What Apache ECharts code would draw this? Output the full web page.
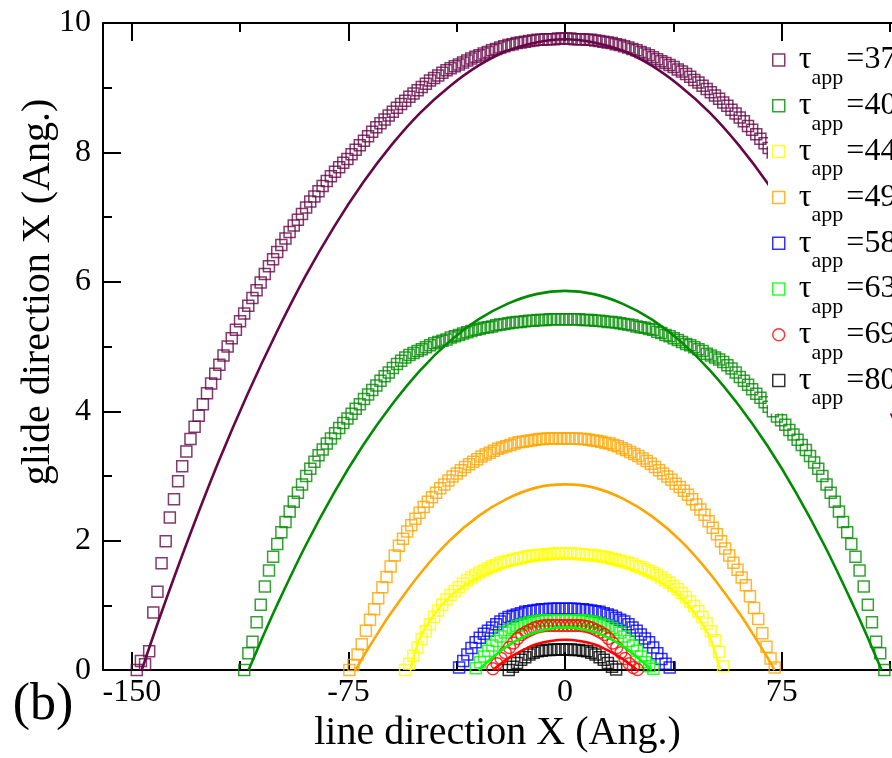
<!DOCTYPE html>
<html>
<head>
<meta charset="utf-8">
<script src="https://cdn.jsdelivr.net/npm/echarts@6.0.0/dist/echarts.min.js"></script>
<style>
  html, body { margin: 0; padding: 0; background: #fff; }
  #chart { width: 892px; height: 758px; }
</style>
</head>
<body>
<div id="chart"></div>
<script>
// Bow-out profiles of a pinned dislocation line for several applied stresses.
// Markers: simulated positions (one per atomic row, spacing X_STEP along the line).
// Curves: continuum line-tension fits.

const X_STEP = 1.43;

const stressLabels = ['37 MPa', '40 MPa', '44 MPa', '49 MPa', '58 MPa', '63 MPa', '69 MPa', '80 MPa'];

// tau_app = 37 MPa
const s37Start = -148.3;
const s37Y = [
  0.00,0.14,0.09,0.29,0.89,1.21,1.65,1.99,2.36,2.64,2.92,3.15,3.38,3.57,3.76,3.93,4.11,4.28,4.43,4.58,4.72,4.86,5.00,
  5.13,5.26,5.39,5.51,5.63,5.75,5.87,5.99,6.12,6.24,6.35,6.46,6.57,
  6.67,6.77,6.87,6.96,7.05,7.15,7.24,7.32,7.40,7.48,7.56,7.63,7.70,7.77,7.84,7.90,7.97,8.04,8.11,8.18,8.25,8.32,8.39,8.45,8.51,8.57,8.63,8.69,8.75,
  8.80,8.86,8.91,8.96,9.01,9.06,9.11,9.15,9.19,9.23,9.27,9.30,9.33,9.36,9.39,
  9.42,9.45,9.48,9.50,9.53,9.55,9.58,9.60,9.62,
  9.64,9.66,9.67,9.69,9.70,9.71,9.72,9.73,9.74,9.74,9.75,9.75,9.75,9.76,9.76,
  9.76,9.76,9.75,9.75,9.75,9.74,9.74,9.73,9.72,9.71,9.70,9.69,9.67,9.66,9.64,9.62,9.60,9.58,9.55,9.53,
  9.50,9.47,9.44,9.41,9.38,9.35,9.32,9.28,9.25,9.21,9.17,9.12,9.08,9.03,8.98,8.93,8.88,8.83,8.77,8.72,
  8.66,8.60,8.54,8.48,8.41,8.35,8.28,8.21,8.14,8.07,8.00,7.93,7.86,7.79,7.72,7.64,7.56,7.49,7.41,7.33,
  7.25,7.16,7.07,6.98,6.89,6.80,6.70,6.60,6.50,6.39,6.28,6.17,6.06,5.94,5.82,5.70,5.58,5.46,5.33,5.20,
  5.07,4.94,4.80,4.66,4.51,4.36,4.20,4.04,3.87,3.69,3.50,3.30,3.08,2.85,2.60,2.33,2.02,1.68,1.30,0.92,
  0.55,0.25,0.10,0.00
];
const s37FitX = [-146.6,-140,-130,-120,-110,-100,-90,-80,-70,-60,-50,-40,-30,-20,-10,0,10,20,30,40,50,60,70,80,90,100,110,120,130,140,146.6];
const s37FitY = [0,0.86,2.08,3.22,4.26,5.21,6.08,6.85,7.53,8.12,8.62,9.02,9.34,9.57,9.70,9.75,9.70,9.57,9.34,9.02,8.62,8.12,7.53,6.85,6.08,5.21,4.26,3.22,2.08,0.86,0];

// tau_app = 40 MPa
const s40Start = -111.1;
const s40Y = [
  0.00,0.26,0.44,0.74,1.01,1.29,1.54,1.75,1.95,2.13,2.29,2.45,2.60,2.74,2.87,3.00,3.11,3.22,3.32,3.41,
  3.50,3.58,3.66,3.74,3.82,3.89,3.96,4.04,4.11,4.19,4.26,4.33,4.40,4.47,4.54,4.60,4.67,4.73,4.78,4.83,
  4.87,4.90,4.93,4.96,4.99,5.02,5.05,5.07,5.09,5.11,5.14,5.16,5.18,5.20,5.22,5.24,5.26,5.27,5.29,5.30,
  5.31,5.33,5.34,5.35,5.36,5.37,5.38,5.38,5.39,5.40,5.40,5.41,5.41,5.41,5.42,5.42,5.42,5.42,
  5.42,5.42,5.42,5.42,5.41,5.41,5.41,5.40,5.40,5.39,5.38,5.38,5.37,5.36,5.35,5.34,5.33,5.31,5.30,5.29,5.27,5.26,
  5.23,5.21,5.18,5.16,5.13,5.10,5.07,5.04,5.02,4.99,4.96,4.93,4.89,4.86,4.83,4.80,4.76,4.71,4.66,4.60,
  4.53,4.47,4.41,4.34,4.27,4.21,4.14,4.07,4.00,3.92,3.86,3.79,3.71,3.64,3.56,3.48,3.40,3.31,3.21,3.11,
  3.00,2.87,2.74,2.60,2.45,2.29,2.13,1.95,1.75,1.54,1.29,1.01,0.74,0.44,0.26,0.00
];
const s40FitX = [-109.6,-105,-100,-90,-80,-70,-60,-50,-40,-30,-20,-10,0,10,20,30,40,50,60,70,80,90,100,105,109.6];
const s40FitY = [0,0.48,0.98,1.91,2.74,3.47,4.10,4.64,5.08,5.42,5.66,5.81,5.86,5.81,5.66,5.42,5.08,4.64,4.10,3.47,2.74,1.91,0.98,0.48,0];

// tau_app = 44 MPa
const s44Start = -55.4;
const s44Y = [
  0.00,0.10,0.22,0.35,0.48,0.60,0.71,0.82,0.92,1.01,1.09,1.16,1.22,1.28,1.34,1.39,1.43,1.47,1.51,1.54,
  1.57,1.60,1.62,1.65,1.67,1.69,1.70,1.72,1.73,1.75,1.76,1.77,1.78,1.78,1.79,1.79,1.80,1.80,1.80,
  1.80,1.80,1.80,1.79,1.79,1.78,1.78,1.77,1.76,1.75,1.74,1.72,1.71,1.69,1.68,1.66,1.64,1.61,1.59,1.56,
  1.53,1.50,1.47,1.43,1.39,1.35,1.30,1.25,1.19,1.13,1.06,0.99,0.91,0.82,0.72,0.60,0.46,0.28,0.06
];
const s44FitX = [-53.7,-50,-45,-40,-35,-30,-20,-10,0,10,20,30,35,40,45,50,53.7];
const s44FitY = [0,0.52,0.88,1.13,1.30,1.43,1.60,1.70,1.73,1.70,1.60,1.43,1.30,1.13,0.88,0.52,0];

// tau_app = 49 MPa
const s49Start = -74.7;
const s49Y = [
  0.00,0.08,0.24,0.40,0.61,0.78,0.94,1.11,1.28,1.44,1.60,1.77,1.92,2.03,2.14,2.24,2.34,2.43,2.52,2.60,
  2.67,2.74,2.81,2.87,2.93,2.99,3.04,3.09,3.14,3.18,3.22,3.26,3.30,3.33,3.36,3.39,3.42,3.44,3.46,3.48,
  3.50,3.52,3.53,3.54,3.55,3.56,3.57,3.57,3.58,3.58,3.58,3.58,3.58,
  3.58,3.58,3.58,3.57,3.57,3.56,3.55,3.54,3.53,3.51,3.50,3.48,3.46,3.43,3.40,3.37,3.34,3.31,3.27,3.23,
  3.19,3.14,3.09,3.04,2.99,2.94,2.88,2.83,2.77,2.71,2.64,2.56,2.48,2.40,2.30,2.20,2.10,1.99,1.88,1.77,
  1.66,1.55,1.43,1.31,1.14,0.96,0.79,0.57,0.36,0.18,0.04
];
const s49FitX = [-72.5,-70,-65,-60,-50,-40,-30,-20,-10,0,10,20,30,40,50,60,65,70,72.5];
const s49FitY = [0,0.20,0.56,0.90,1.50,2.00,2.38,2.65,2.82,2.87,2.82,2.65,2.38,2.00,1.50,0.90,0.56,0.20,0];

// tau_app = 58 MPa
const s58Start = -36.7;
const s58Y = [
  0.04,0.14,0.24,0.34,0.43,0.50,0.56,0.61,0.66,0.71,0.75,0.79,0.82,0.84,0.86,0.88,0.90,0.91,0.92,0.93,
  0.94,0.94,0.95,0.95,0.95,0.95,0.95,0.95,0.95,0.94,0.94,0.93,0.92,0.91,0.90,0.88,0.86,0.84,0.81,0.78,
  0.75,0.71,0.66,0.61,0.55,0.49,0.43,0.35,0.26,0.17,0.10,0.04
];

// tau_app = 63 MPa
const s63Start = -30.9;
const s63Y = [
  0.03,0.12,0.21,0.30,0.38,0.45,0.52,0.58,0.62,0.65,0.68,0.70,0.72,0.74,0.75,0.76,0.77,0.77,0.77,0.77,
  0.77,0.77,0.77,0.77,0.77,0.77,0.77,0.76,0.75,0.74,0.72,0.70,0.68,0.65,0.62,0.58,0.52,0.45,0.38,0.30,
  0.21,0.12,0.06,0.02
];
const s63FitX = [-30,-25,-20,-15,-10,-5,0,5,10,15,20,25,30];
const s63FitY = [0,0.20,0.37,0.50,0.59,0.64,0.66,0.64,0.59,0.50,0.37,0.20,0];

// tau_app = 69 MPa
const s69Start = -25.0;
const s69Y = [
  0.02,0.10,0.18,0.27,0.35,0.42,0.49,0.55,0.59,0.62,0.65,0.67,0.68,0.69,0.69,0.69,0.69,0.69,0.69,0.69,
  0.69,0.69,0.68,0.67,0.65,0.62,0.59,0.55,0.49,0.42,0.35,0.27,0.18,0.10,0.04,0.01
];
const s69FitX = [-25,-20,-15,-10,-5,0,5,10,15,20,25];
const s69FitY = [0,0.17,0.30,0.40,0.45,0.47,0.45,0.40,0.30,0.17,0];

// tau_app = 80 MPa
const s80Start = -19.5;
const s80Y = [
  0.00,0.05,0.11,0.16,0.20,0.24,0.27,0.29,0.30,0.31,0.31,0.32,0.32,0.32,0.32,0.32,0.31,0.31,0.30,0.29,
  0.27,0.24,0.20,0.16,0.11,0.05,0.01
];

// Axis range and ticks (the frame runs past the right edge of the page)
const xMin = -160, xMax = 113.2;
const xMajorTicks = [-150, -75, 0, 75];
const xMinorTicks = [-112.5, -37.5, 37.5, 112.5];

// ---------------------------------------------------------------------------
const SERIF = '"Liberation Serif", "Times New Roman", serif';

const sets = [
  { start: s37Start, y: s37Y, fx: s37FitX, fy: s37FitY, color: '#670748', symbol: 'rect' },
  { start: s40Start, y: s40Y, fx: s40FitX, fy: s40FitY, color: '#008b00', symbol: 'rect' },
  { start: s44Start, y: s44Y, fx: s44FitX, fy: s44FitY, color: '#ffff00', symbol: 'rect' },
  { start: s49Start, y: s49Y, fx: s49FitX, fy: s49FitY, color: '#ffa500', symbol: 'rect' },
  { start: s58Start, y: s58Y, fx: null, fy: null, color: '#0000ff', symbol: 'rect' },
  { start: s63Start, y: s63Y, fx: s63FitX, fy: s63FitY, color: '#00ff00', symbol: 'rect' },
  { start: s69Start, y: s69Y, fx: s69FitX, fy: s69FitY, color: '#ff0000', symbol: 'circle' },
  { start: s80Start, y: s80Y, fx: null, fy: null, color: '#000000', symbol: 'rect' }
];

const names = stressLabels.map(s => 'tau_app=' + s);

function rowPoints(start, ys) {
  return ys.map((v, i) => [Math.round((start + i * X_STEP) * 100) / 100, v]);
}
function pairs(xs, ys) {
  return xs.map((x, i) => [x, ys[i]]);
}

const series = [];
sets.forEach((s, k) => {
  series.push({
    name: names[k],
    type: 'scatter',
    data: rowPoints(s.start, s.y),
    symbol: s.symbol,
    symbolSize: s.symbol === 'circle' ? 12 : 11,
    clip: false,
    silent: true,
    itemStyle: { color: 'rgba(255,255,255,0)', borderColor: s.color, borderWidth: 1.5 },
    z: 2
  });
});
sets.forEach((s, k) => {
  if (!s.fx) return;
  series.push({
    name: 'fit ' + names[k],
    type: 'line',
    data: pairs(s.fx, s.fy),
    smooth: 0.35,
    showSymbol: false,
    silent: true,
    lineStyle: { color: s.color, width: 2.6 },
    z: 3
  });
});

const axisLineStyle = { color: '#000', width: 2 };

function tickAxis(position, values, length, withLine, withLabels) {
  return {
    type: 'value', gridIndex: 0, position: position,
    min: xMin, max: xMax,
    axisLine: { show: withLine, onZero: false, lineStyle: axisLineStyle },
    axisTick: { show: true, inside: true, length: length, customValues: values, lineStyle: { color: '#000', width: 2 } },
    axisLabel: withLabels
      ? { show: true, customValues: values, margin: 6, color: '#000', fontFamily: SERIF, fontSize: 32 }
      : { show: false },
    splitLine: { show: false },
    name: withLabels ? 'line direction X (Ang.)' : '',
    nameLocation: 'middle',
    nameGap: 40,
    nameTextStyle: { fontFamily: SERIF, fontSize: 40, color: '#000' }
  };
}

const chart = echarts.init(document.getElementById('chart'), null, { renderer: 'canvas' });
chart.setOption({
  animation: false,
  backgroundColor: '#fff',
  grid: { left: 103, top: 23, right: 0, bottom: 86 },
  xAxis: [
    tickAxis('bottom', xMajorTicks, 18, true, true),
    tickAxis('bottom', xMinorTicks, 9, false, false),
    tickAxis('top', xMajorTicks, 18, true, false),
    tickAxis('top', xMinorTicks, 9, false, false)
  ],
  yAxis: {
    type: 'value', min: 0, max: 10, interval: 2,
    axisLine: { show: true, onZero: false, lineStyle: axisLineStyle },
    axisTick: { show: true, inside: true, length: 18, lineStyle: { color: '#000', width: 2 } },
    minorTick: { show: true, splitNumber: 2, length: 9, lineStyle: { color: '#000', width: 2 } },
    axisLabel: { margin: 12, color: '#000', fontFamily: SERIF, fontSize: 32 },
    splitLine: { show: false }
  },
  legend: {
    orient: 'vertical',
    left: 768, top: 44,
    padding: [0, 0, 0, 4],
    itemGap: -3.2,
    itemWidth: 12, itemHeight: 12,
    backgroundColor: '#fff',
    selectedMode: false,
    z: 10,
    data: sets.map((s, k) => ({
      name: names[k],
      icon: s.symbol,
      itemStyle: { color: '#fff', borderColor: s.color, borderWidth: 1.5 }
    })),
    formatter: function (name) {
      const k = names.indexOf(name);
      return '{t0|τ}{s|app}{t|=' + stressLabels[k] + '}';
    },
    textStyle: {
      color: '#000',
      rich: {
        t0: { fontFamily: SERIF, fontSize: 32, lineHeight: 32, verticalAlign: 'top', padding: [0, 0, 0, 9] },
        t: { fontFamily: SERIF, fontSize: 32, lineHeight: 32, verticalAlign: 'top' },
        s: { fontFamily: SERIF, fontSize: 22, lineHeight: 22, verticalAlign: 'top', padding: [23, 3, 4, 0] }
      }
    }
  },
  graphic: [
    {
      type: 'text', x: 38, y: 292, rotation: Math.PI / 2, z: 20,
      style: { text: 'glide direction X (Ang.)', fontFamily: SERIF, fontSize: 40, fill: '#000', align: 'center', verticalAlign: 'middle' }
    },
    {
      type: 'text', x: 43, y: 705, z: 20,
      style: { text: '(b)', fontFamily: SERIF, fontSize: 52, fill: '#000', align: 'center', verticalAlign: 'middle' }
    }
  ],
  series: series
});
</script>
</body>
</html>
